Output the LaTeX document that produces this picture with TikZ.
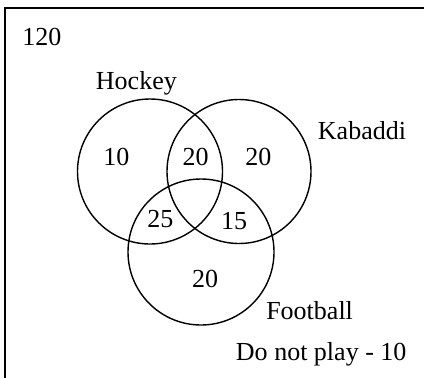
\documentclass[tikz,border=0pt]{standalone}
\usepackage{fontspec}
\setmainfont{Liberation Serif}
\usetikzlibrary{positioning}

\begin{document}
\begin{tikzpicture}[
        setcircle/.style={draw=black,line width=1pt},
        lbl/.style={font=\fontsize{18.5}{22}\selectfont,inner sep=0pt},
        frame/.style={draw=black,line width=1.4pt}
      ]
        \useasboundingbox (0,0) rectangle (10.6,9.425);
        \clip (0,0) rectangle (10.6,9.425);
        % universal set
        \draw[frame] (0.125,9.225) rectangle (11,-1);
        \node[lbl,anchor=west] (total) at (0.55,8.5) {120};
        % the three sets
        \draw[setcircle] (3.75,5.1375) circle (1.8125);
        \draw[setcircle] (5.975,5.1375) circle (1.8);
        \draw[setcircle] (5.025,3.125) circle (1.825);
        \node[lbl] (hockey)   at (3.41,7.35) {Hockey};
        \node[lbl] (kabaddi)  at (9.05,6.17) {Kabaddi};
        \node[lbl] (football) at (7.74,1.67) {Football};
        % region counts
        \node[lbl] (onlyH)  at (2.91,5.50) {10};
        \node[lbl] (HK)     at (4.89,5.50) {20};
        \node[lbl] (onlyK)  at (6.46,5.49) {20};
        \node[lbl] (HF)     at (4.01,3.95) {25};
        \node[lbl] (KF)     at (5.85,3.89) {15};
        \node[lbl] (onlyF)  at (5.13,2.45) {20};
        \node[lbl] (none)   at (8.03,0.57) {Do not play - 10};
      \end{tikzpicture}
\end{document}
